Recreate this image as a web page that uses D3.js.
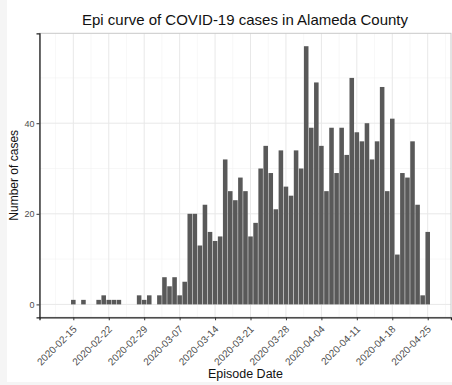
<!DOCTYPE html>
<html>
<head>
<meta charset="utf-8">
<script src="https://cdn.jsdelivr.net/npm/d3@7"></script>
<style>
  body { margin: 0; background: #f5f5f5; }
  text { font-family: "Liberation Sans", Arial, sans-serif; }
</style>
</head>
<body>
<div id="chart"></div>
<script>
// daily counts from 2020-02-15 to 2020-04-25
const startDate = '2020-02-15';
const counts = [
  1, 0, 1, 0, 0, 1, 2, 1, 1, 1, 0, 0, 0, 2, 1, 2, 0, 2, 6, 4, 6, 2, 5,
  20, 20, 13, 22, 16, 14, 15, 32, 25, 23, 28, 25, 15, 18, 30, 35, 29, 21,
  34, 26, 24, 34, 30, 57, 39, 49, 35, 25, 39, 29, 39, 33, 50, 38, 36, 40,
  32, 36, 48, 25, 41, 11, 29, 28, 36, 22, 2, 16
];
const xTickLabels = ['2020-02-15', '2020-02-22', '2020-02-29', '2020-03-07', '2020-03-14',
  '2020-03-21', '2020-03-28', '2020-04-04', '2020-04-11', '2020-04-18', '2020-04-25'];
const yTicks = [0, 20, 40];
const yMinor = [10, 30, 50];

const W = 452, H = 385;
const parse = d3.utcParse('%Y-%m-%d');
const DAY = 864e5;
const t0 = parse(startDate);
const days = counts.map((c, i) => ({ date: new Date(+t0 + i * DAY), n: c }));

const svg = d3.select('#chart').append('svg')
  .attr('width', W).attr('height', H);

svg.append('rect').attr('x', 0).attr('y', 0).attr('width', W).attr('height', H).attr('fill', '#f5f5f5');
svg.append('rect').attr('x', 7).attr('y', 0).attr('width', W - 7).attr('height', 382).attr('fill', '#fff');

const panel = { left: 39.5, right: 451, top: 33.3, bottom: 317.3 };

const x = d3.scaleUtc()
  .domain([new Date(+t0 - 6.68 * DAY), new Date(+t0 + 74.6 * DAY)])
  .range([panel.left, panel.right]);

const y = d3.scaleLinear()
  .domain([-2.85, 59.85])
  .range([panel.bottom, panel.top]);

const xTicks = xTickLabels.map(parse);
const xMinor = d3.range(-0.5, 11).map(k => new Date(+t0 + k * 7 * DAY));

// grid
const grid = svg.append('g');
grid.selectAll('.vminor').data(xMinor).enter().append('line')
  .attr('x1', d => x(d)).attr('x2', d => x(d))
  .attr('y1', panel.top).attr('y2', panel.bottom)
  .attr('stroke', '#f2f2f2').attr('stroke-width', 0.6);
grid.selectAll('.hminor').data(yMinor).enter().append('line')
  .attr('x1', panel.left).attr('x2', panel.right)
  .attr('y1', d => y(d)).attr('y2', d => y(d))
  .attr('stroke', '#f2f2f2').attr('stroke-width', 0.6);
grid.selectAll('.vmajor').data(xTicks).enter().append('line')
  .attr('x1', d => x(d)).attr('x2', d => x(d))
  .attr('y1', panel.top).attr('y2', panel.bottom)
  .attr('stroke', '#e8e8e8').attr('stroke-width', 1);
grid.selectAll('.hmajor').data(yTicks).enter().append('line')
  .attr('x1', panel.left).attr('x2', panel.right)
  .attr('y1', d => y(d)).attr('y2', d => y(d))
  .attr('stroke', '#e8e8e8').attr('stroke-width', 1);

// bars
const bw = x(new Date(+t0 + 0.9 * DAY)) - x(t0);
svg.append('g').selectAll('rect')
  .data(days.filter(d => d.n > 0))
  .enter().append('rect')
  .attr('x', d => x(d.date) - bw / 2)
  .attr('width', bw)
  .attr('y', d => y(d.n))
  .attr('height', d => y(0) - y(d.n))
  .attr('fill', '#595959');

// panel border (top / right), axis lines (left / bottom)
svg.append('rect')
  .attr('x', panel.left).attr('y', panel.top)
  .attr('width', panel.right - panel.left).attr('height', panel.bottom - panel.top)
  .attr('fill', 'none').attr('stroke', '#c8c8c8').attr('stroke-width', 1);

const xAxis = svg.append('g')
  .attr('transform', `translate(0,${panel.bottom})`)
  .call(d3.axisBottom(x).tickValues(xTicks).tickSize(3).tickFormat(d3.utcFormat('%Y-%m-%d')));
xAxis.select('.domain').attr('stroke', '#222').attr('stroke-width', 1.3);
xAxis.selectAll('.tick line').attr('stroke', '#333');
xAxis.selectAll('.tick text')
  .attr('fill', '#4d4d4d')
  .style('font-size', '10px')
  .attr('text-anchor', 'end')
  .attr('dy', null)
  .attr('y', 0)
  .attr('transform', 'translate(3.5,12.5) rotate(-45)');

const yAxis = svg.append('g')
  .attr('transform', `translate(${panel.left},0)`)
  .call(d3.axisLeft(y).tickValues(yTicks).tickSize(3));
yAxis.select('.domain').attr('stroke', '#222').attr('stroke-width', 1.3);
yAxis.selectAll('.tick line').attr('stroke', '#333');
yAxis.selectAll('.tick text')
  .attr('fill', '#4d4d4d')
  .style('font-size', '9px')
  .attr('x', -5);

// titles
svg.append('text')
  .attr('x', 245).attr('y', 25)
  .attr('text-anchor', 'middle')
  .style('font-size', '15px')
  .attr('fill', '#111')
  .text('Epi curve of COVID-19 cases in Alameda County');

svg.append('text')
  .attr('x', 245.5).attr('y', 378)
  .attr('text-anchor', 'middle')
  .style('font-size', '12.5px')
  .attr('fill', '#111')
  .text('Episode Date');

svg.append('text')
  .attr('transform', `translate(18,${(panel.top + panel.bottom) / 2}) rotate(-90)`)
  .attr('text-anchor', 'middle')
  .style('font-size', '12px')
  .attr('fill', '#111')
  .text('Number of cases');
</script>
</body>
</html>
